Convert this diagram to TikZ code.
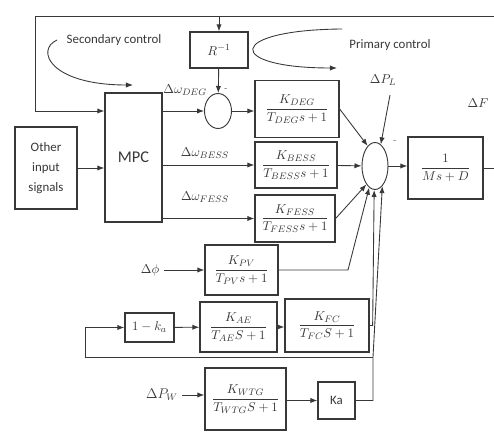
\documentclass[tikz,border=0pt]{standalone}
\usepackage{amsmath}
\usepackage{fontspec}
\newfontfamily\labelfont{Carlito}
\usepackage{tikz}
\usetikzlibrary{arrows, arrows.meta, shapes.geometric}

\begin{document}
\begin{tikzpicture}[x=0.03cm, y=-0.03cm, >={Latex[length=6pt,width=4.5pt]}, color=black!78, line width=0.75pt, font=\fontsize{11}{13}\selectfont]
\tikzstyle{block}=[draw, rectangle, line width=1.1pt, inner sep=1pt, align=center]
\tikzstyle{sumpt}=[draw, ellipse, line width=0.8pt, inner sep=0pt]
\tikzstyle{word}=[font=\labelfont\fontsize{11}{17}\selectfont, align=center]
\useasboundingbox (0,0) rectangle (494,432);
% blocks
\node[block, minimum width=1.74cm, minimum height=1.08cm] (R) at (219,50) {$R^{-1}$};
\node[block, word, minimum width=1.86cm, minimum height=2.46cm] (Other) at (46,168) {Other\\input\\signals};
\node[block, minimum width=1.71cm, minimum height=3.87cm, font=\labelfont\fontsize{14}{16}\selectfont] (MPC) at (133.5,157.5) {MPC};
\node[block, minimum width=2.52cm, minimum height=1.71cm] (DEG) at (297,109) {$\dfrac{K_{DEG}}{T_{DEG}s+1}$};
\node[block, minimum width=2.46cm, minimum height=1.38cm] (BESS) at (296,165) {$\dfrac{K_{BESS}}{T_{BESS}s+1}$};
\node[block, minimum width=2.40cm, minimum height=1.41cm] (FESS) at (295,218.5) {$\dfrac{K_{FESS}}{T_{FESS}s+1}$};
\node[block, minimum width=2.25cm, minimum height=1.86cm] (Out) at (445.5,168) {$\dfrac{1}{Ms+D}$};
\node[block, minimum width=2.19cm, minimum height=1.50cm] (PV) at (241.5,270) {$\dfrac{K_{PV}}{T_{PV}s+1}$};
\node[block, minimum width=1.47cm, minimum height=0.87cm] (OneKa) at (149.5,327.5) {$1-k_a$};
\node[block, minimum width=2.31cm, minimum height=1.50cm] (AE) at (238.5,327) {$\dfrac{K_{AE}}{T_{AE}S+1}$};
\node[block, minimum width=2.52cm, minimum height=1.59cm] (FC) at (327,325.5) {$\dfrac{K_{FC}}{T_{FC}S+1}$};
\node[block, minimum width=2.43cm, minimum height=1.86cm] (WTG) at (245.5,399) {$\dfrac{K_{WTG}}{T_{WTG}S+1}$};
\node[block, word, minimum width=1.11cm, minimum height=1.11cm] (Ka) at (336.5,400.5) {Ka};
% summing points
\node[sumpt, minimum width=0.81cm, minimum height=1.05cm] (S1) at (218,111) {};
\node[sumpt, minimum width=0.78cm, minimum height=1.41cm] (S2) at (375,166) {};
% labels
\node (dDEG) at (185,90) {$\Delta\omega_{DEG}$};
\node (dBESS) at (205,153) {$\Delta\omega_{BESS}$};
\node (dFESS) at (205,197) {$\Delta\omega_{FESS}$};
\node (dPL) at (383,80) {$\Delta P_L$};
\node (dF) at (478,103) {$\Delta F$};
\node (phi) at (150,270) {$\Delta\phi$};
\node[font=\large] (PW) at (162,395) {$\Delta P_W$};
\node[font=\scriptsize] (m1) at (226,89) {-};
\node[font=\scriptsize] (m2) at (395,141) {-};
\node[word] (SC) at (114,40) {Secondary control};
\node[word] (PC) at (390,45) {Primary control};
% corner points
\coordinate (TL) at (35,16);
\coordinate (TR) at (494,16);
\coordinate (TRin) at (219,16);
\coordinate (Oend) at (494,168);
\coordinate (PLs) at (390,95);
\coordinate (PVc) at (348,270);
\coordinate (FB) at (373,357);
\coordinate (FBL) at (85,357);
\coordinate (SCa) at (57,40);
\coordinate (SCb) at (133,85);
\coordinate (PCa) at (342,29);
\coordinate (PCb) at (337,68);
% feedback and MPC
\draw (TR) -- (TL);
\draw[->] (TL) |- (MPC.west |- S1);
\draw[->] (TRin) -- (R);
\draw[->] (R) -- (S1);
\draw[->] (MPC.east |- S1) -- (S1);
\draw[->] (S1) -- (DEG.west |- S1);
\draw[->] (Other) -- (MPC.west |- Other);
\draw[->] (MPC.east |- BESS) -- (BESS);
\draw[->] (MPC.east |- FESS.west) -- (FESS.west);
% into the main sum
\draw[->] (DEG.east) -- (S2.110);
\draw[->] (BESS) -- (S2);
\draw[->] (FESS.east) -- (S2.245);
\draw[->] (PLs) -- (S2.75);
\draw[->] (PV.east) -- (PVc) -- (S2.255);
\draw[->] (FC.east) -- ++(3,0) -- (S2.268);
\draw[->] (Ka.east) -| (FB) -- (S2.290);
\draw[->] (S2.east) -- (Out.west |- S2.east);
\draw (Out.east) -- (Oend);
% renewable part
\draw[->] (phi) -- (PV);
\draw[->] (FB) -- (FBL) |- (OneKa);
\draw[->] (OneKa) -- (AE);
\draw[->] (AE.east) -- (FC.west |- AE.east);
\draw[->] (PW.east) -- (WTG.west |- PW.east);
\draw[->] (WTG.east |- Ka) -- (Ka);
% control loop hints
\draw[->] (SCa) .. controls (35,50) and (50,85) .. (SCb);
\draw[->] (PCa) .. controls (225,30) and (225,68) .. (PCb);
\end{tikzpicture}
\end{document}
